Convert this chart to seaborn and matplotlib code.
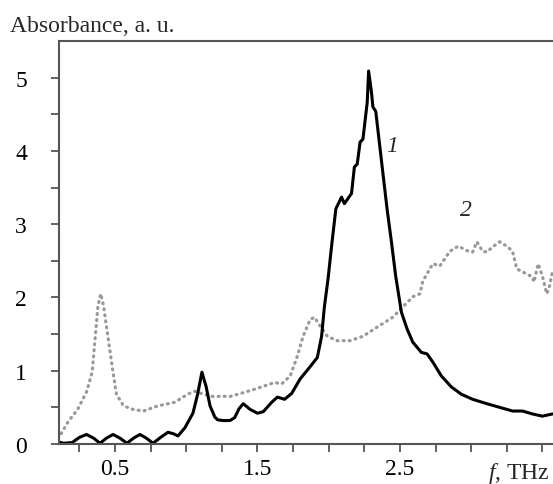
import pandas as pd
import matplotlib.pyplot as plt
import seaborn as sns

# Curve 1 (solid black)
freq_1 = [0.10, 0.14, 0.20, 0.25, 0.30, 0.35, 0.395, 0.44, 0.486, 0.535, 0.584, 0.63,
          0.675, 0.72, 0.767, 0.82, 0.872, 0.91, 0.942, 0.99, 1.047, 1.08, 1.11, 1.14,
          1.167, 1.20, 1.22, 1.26, 1.307, 1.34, 1.37, 1.40, 1.45, 1.50, 1.54, 1.60,
          1.64, 1.69, 1.74, 1.80, 1.855, 1.92, 1.95, 1.97, 1.995, 2.02, 2.05, 2.09,
          2.11, 2.16, 2.18, 2.20, 2.22, 2.24, 2.27, 2.28, 2.30, 2.31, 2.33, 2.38,
          2.41, 2.44, 2.47, 2.51, 2.55, 2.59, 2.65, 2.69, 2.73, 2.79, 2.86, 2.93,
          3.01, 3.11, 3.20, 3.29, 3.36, 3.43, 3.50, 3.57]
abs_1 = [0.03, 0.01, 0.02, 0.09, 0.13, 0.08, 0.01, 0.08, 0.13, 0.08, 0.01, 0.08,
         0.13, 0.08, 0.01, 0.09, 0.16, 0.14, 0.11, 0.22, 0.42, 0.68, 0.98, 0.78,
         0.52, 0.37, 0.33, 0.32, 0.32, 0.36, 0.48, 0.55, 0.47, 0.42, 0.44, 0.57,
         0.64, 0.61, 0.69, 0.89, 1.02, 1.18, 1.47, 1.88, 2.25, 2.70, 3.21, 3.37,
         3.28, 3.42, 3.78, 3.82, 4.12, 4.16, 4.66, 5.09, 4.80, 4.60, 4.54, 3.70,
         3.20, 2.76, 2.29, 1.80, 1.57, 1.39, 1.25, 1.23, 1.12, 0.93, 0.78, 0.68,
         0.61, 0.55, 0.50, 0.45, 0.45, 0.41, 0.38, 0.41]

# Curve 2 (dotted grey)
freq_2 = [0.10, 0.17, 0.24, 0.30, 0.34, 0.36, 0.38, 0.40, 0.42, 0.45, 0.48, 0.51,
          0.56, 0.63, 0.70, 0.80, 0.92, 1.01, 1.06, 1.12, 1.18, 1.31, 1.40, 1.50,
          1.62, 1.67, 1.73, 1.78, 1.82, 1.87, 1.90, 1.94, 1.99, 2.06, 2.15, 2.24,
          2.36, 2.45, 2.52, 2.59, 2.64, 2.66, 2.73, 2.78, 2.85, 2.91, 2.98, 3.01,
          3.04, 3.08, 3.11, 3.15, 3.20, 3.25, 3.29, 3.32, 3.36, 3.43, 3.44, 3.47,
          3.50, 3.53, 3.55, 3.57]
abs_2 = [0.07, 0.30, 0.48, 0.71, 0.98, 1.43, 1.88, 2.05, 1.88, 1.47, 1.06, 0.68,
         0.52, 0.47, 0.45, 0.52, 0.57, 0.68, 0.72, 0.68, 0.65, 0.65, 0.70, 0.76,
         0.84, 0.82, 0.93, 1.20, 1.47, 1.70, 1.73, 1.61, 1.47, 1.41, 1.41, 1.47,
         1.62, 1.73, 1.87, 2.01, 2.05, 2.22, 2.46, 2.43, 2.63, 2.70, 2.63, 2.62,
         2.76, 2.63, 2.62, 2.69, 2.76, 2.70, 2.63, 2.39, 2.35, 2.28, 2.21, 2.46,
         2.29, 2.05, 2.16, 2.35]

xtick_pos = [0.25, 0.5, 0.75, 1.0, 1.25, 1.5, 1.75, 2.0, 2.25, 2.5, 2.75, 3.0, 3.25, 3.5]
xtick_labels = ["", "0.5", "", "", "", "1.5", "", "", "", "2.5", "", "", "", ""]
ytick_pos = [0, 0.5, 1, 1.5, 2, 2.5, 3, 3.5, 4, 4.5, 5]
ytick_labels = ["0", "", "1", "", "2", "", "3", "", "4", "", "5"]

df1 = pd.DataFrame({"f": freq_1, "A": abs_1})
df2 = pd.DataFrame({"f": freq_2, "A": abs_2})

sns.set_theme(style="ticks")
plt.rcParams["font.family"] = ["Liberation Serif", "DejaVu Serif"]
plt.rcParams["mathtext.fontset"] = "custom"
plt.rcParams["mathtext.rm"] = "Liberation Serif"
plt.rcParams["mathtext.it"] = "Liberation Serif:italic"

fig = plt.figure(figsize=(5.53, 4.85), dpi=100)
ax = fig.add_axes([59 / 553, 1 - 445 / 485, 1 - 59 / 553, (445 - 42) / 485])

sns.lineplot(data=df2, x="f", y="A", ax=ax, sort=False, color="#999999",
             linewidth=2.3, linestyle=(0, (0.3, 1.6)), dash_capstyle="round")
sns.lineplot(data=df1, x="f", y="A", ax=ax, sort=False, color="black", linewidth=2.2)

ax.set_xlim(0.107, 3.574)
ax.set_ylim(0, 5.5)
ax.set_xticks(xtick_pos)
ax.set_xticklabels(xtick_labels)
ax.set_yticks(ytick_pos)
ax.set_yticklabels(ytick_labels)
ax.set_xlabel("")
ax.set_ylabel("")

spine_color = "#555555"
for side in ["left", "bottom", "top"]:
    ax.spines[side].set_color(spine_color)
    ax.spines[side].set_linewidth(1.5)
ax.spines["right"].set_visible(False)
ax.tick_params(axis="both", direction="out", length=6, width=1.3, color=spine_color,
               labelsize=17, labelcolor="black")
ax.tick_params(axis="y", pad=17)
ax.tick_params(axis="x", pad=4)

ax.text(2.40, 4.0, "1", fontsize=17, style="italic")
ax.text(2.92, 3.12, "2", fontsize=17, style="italic")

fig.text(10 / 553, 1 - 32 / 485, "Absorbance, a. u.", fontsize=17, va="baseline")
fig.text(550 / 553, 1 - 479 / 485, r"$\mathit{f}$, THz", fontsize=17, ha="right", va="baseline")

fig.savefig("out.png", dpi=100)
